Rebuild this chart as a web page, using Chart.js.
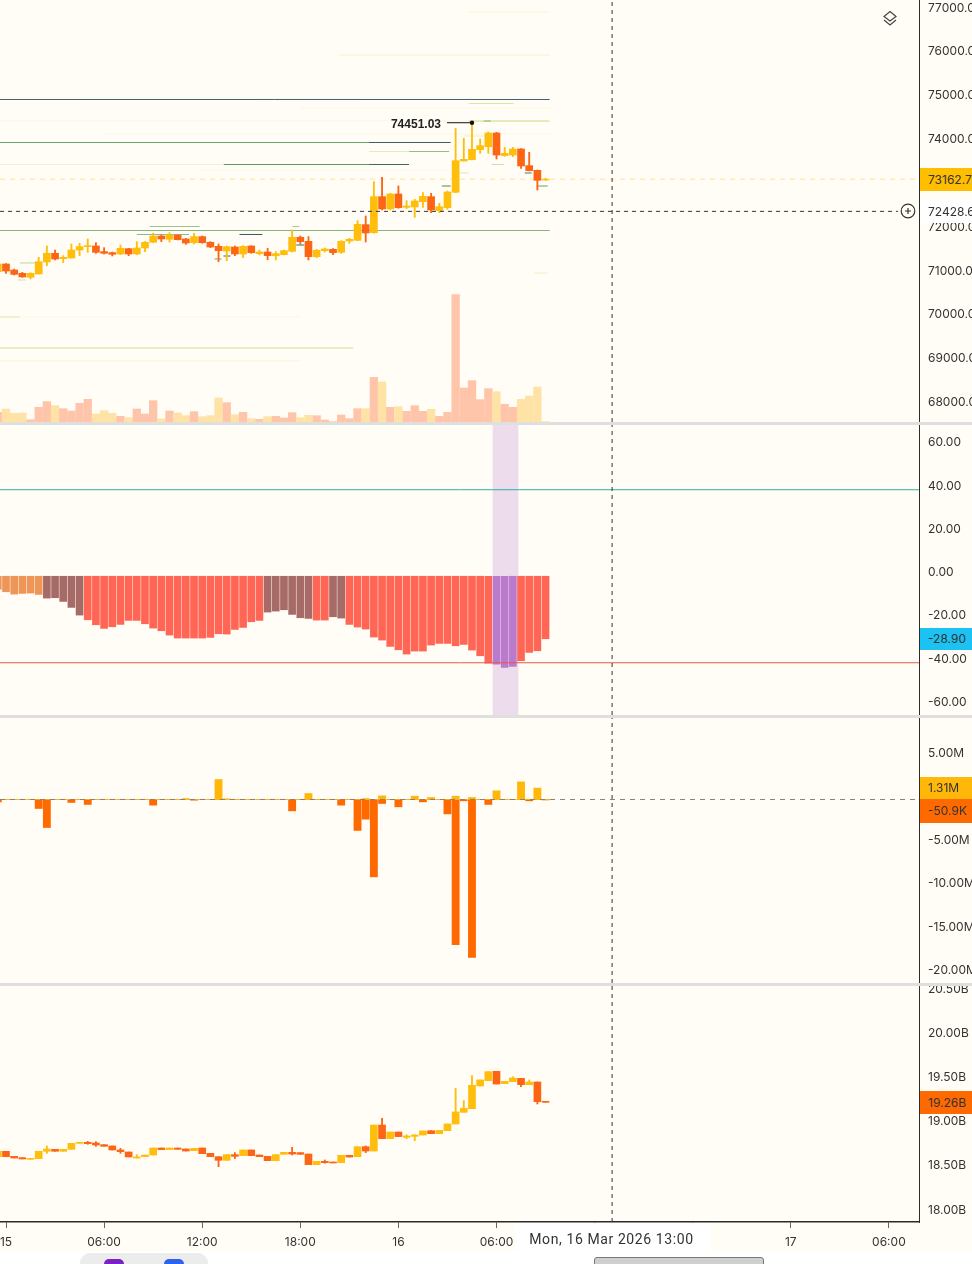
<!DOCTYPE html>
<html>
<head>
<meta charset="utf-8">
<title>BTC chart</title>
<script src="https://cdn.jsdelivr.net/npm/chart.js@4/dist/chart.umd.min.js"></script>
<style>
html,body{margin:0;padding:0;background:#fff;overflow:hidden}
#stage{position:relative;width:972px;height:1264px;overflow:hidden;background:#fff;font-family:Inter,Roboto,sans-serif}
#cream{position:absolute;left:0;top:0;width:972px;height:1251px;background:#fffdf5}
canvas{position:absolute;left:0}
.sep{position:absolute;left:0;width:972px;height:3px;background:#dfdfdd}
.tag{position:absolute;left:920px;width:52px;box-sizing:border-box;padding-left:8px;font-size:12px;color:#333;white-space:nowrap;overflow:hidden;display:flex;align-items:center}
</style>
</head>
<body>
<div id="stage">
<div id="cream"></div>
<canvas id="c1" width="972" height="422" style="top:0"></canvas>
<canvas id="c2" width="972" height="290" style="top:425px"></canvas>
<canvas id="c3" width="972" height="265" style="top:718px"></canvas>
<canvas id="c4" width="972" height="265" style="top:986px"></canvas>
<div class="sep" style="top:422px"></div>
<div class="sep" style="top:715px"></div>
<div class="sep" style="top:983px"></div>
<svg style="position:absolute;left:881px;top:10px" width="18" height="18" viewBox="0 0 18 18" fill="none" stroke="#444" stroke-width="1.2"><path d="M9 1.5 15 6.5 9 11 3 6.5Z"/><path d="M3 10 9 15 15 10"/></svg>
<svg style="position:absolute;left:900px;top:203px" width="16" height="16" viewBox="0 0 16 16" fill="none" stroke="#333" stroke-width="1.2"><circle cx="8" cy="8" r="6.8"/><path d="M5 8H11M8 5V11"/></svg>
<div id="hiLabel" style="position:absolute;left:380px;width:61px;text-align:right;font:bold 12px 'Liberation Sans',Arial,sans-serif;color:#222">74451.03</div>
<div style="position:absolute;left:515px;top:1223px;width:195px;height:27px;background:#fff"></div>
<div style="position:absolute;left:515px;top:1225px;width:193px;height:27px;font:14px Roboto,sans-serif;color:#333;display:flex;align-items:center;justify-content:center;letter-spacing:.6px">Mon, 16 Mar 2026 13:00</div>
<div style="position:absolute;left:0;top:1251px;width:972px;height:13px;background:#fff"></div>
<div style="position:absolute;left:80px;top:1253px;width:128px;height:30px;border-radius:10px;background:#ececec"></div>
<div style="position:absolute;left:104px;top:1259px;width:20px;height:20px;border-radius:5px;background:#7b22c4"></div>
<div style="position:absolute;left:164px;top:1259px;width:20px;height:20px;border-radius:5px;background:#2d62ee"></div>
<div style="position:absolute;left:594px;top:1257px;width:170px;height:20px;border-radius:3px;background:#cfcfcf;border:1px solid #777;box-sizing:border-box"></div>
</div>
<script>
// Time of each 30-minute candle, hours since 15 Mar 00:00
const hours = [-0.5,0,0.5,1,1.5,2,2.5,3,3.5,4,4.5,5,5.5,6,6.5,7,7.5,8,8.5,9,9.5,10,10.5,11,11.5,12,12.5,13,13.5,14,14.5,15,15.5,16,16.5,17,17.5,18,18.5,19,19.5,20,20.5,21,21.5,22,22.5,23,23.5,24,24.5,25,25.5,26,26.5,27,27.5,28,28.5,29,29.5,30,30.5,31,31.5,32,32.5,33];

const priceOpen = [71053,71228,71091,71015,70924,71000,71274,71472,71350,71365,
71548,71624,71639,71510,71487,71456,71578,71456,71593,71723,
71867,71791,71882,71799,71715,71852,71723,71631,71525,71616,
71456,71639,71464,71502,71418,71441,71517,71837,71745,71396,
71532,71563,71494,71753,71768,72126,71943,72764,72483,72825,
72521,72529,72650,72764,72445,72513,72863,73578,73608,73837,
73905,74217,73700,73715,73852,73472,73365,73145];
const priceClose = [71228,71068,70992,70932,71015,71281,71472,71342,71380,71548,
71624,71647,71494,71472,71449,71586,71456,71593,71723,71867,
71799,71897,71783,71707,71852,71715,71616,71532,71624,71456,
71631,71487,71502,71418,71464,71532,71837,71738,71396,71540,
71570,71487,71745,71791,72133,71936,72764,72483,72825,72513,
72551,72666,72772,72460,72536,72871,73586,73616,73844,73928,
74217,73715,73753,73852,73464,73358,73137,73162.7];
const priceHigh = [71243,71235,71114,71038,71030,71380,71639,71548,71418,71684,
71700,71799,71715,71601,71502,71662,71586,71738,71738,71928,
71890,71943,71897,71814,71928,71867,71738,71684,71639,71639,
71647,71647,71548,71586,71510,71548,72004,71867,71852,71563,
71593,71578,71761,71814,72217,72323,73107,73206,72840,73008,
72673,72704,72856,72840,72612,72894,74323,74095,74451.03,74080,
74240,74232,73890,73890,73860,73776,73373,73185];
const priceLow = [71030,71015,70977,70924,70886,70998,71190,71319,71259,71360,
71418,71494,71472,71456,71411,71441,71418,71441,71510,71715,
71738,71730,71776,71677,71684,71700,71601,71281,71304,71418,
71373,71472,71434,71327,71319,71436,71502,71684,71319,71373,
71502,71441,71472,71700,71760,71730,71928,72460,72460,72498,
72491,72293,72521,72399,72399,72475,72856,73575,73600,73753,
73753,73624,73685,73677,73411,73350,72916,73135];

const volume = [29,39,26,27,7,44,61,49,40,33,
56,68,24,34,26,17,13,39,24,64,
9,33,27,19,31,16,19,72,58,22,
29,10,8,16,17,12,28,13,20,19,
6,1,21,10,40,40,134,120,44,46,
32,49,32,38,17,29,382,102,124,67,
100,91,53,44,68,78,105,1];
const volumeRising = [0,1,1,1,0,0,0,1,0,0,
0,0,1,1,1,0,1,0,0,0,
1,0,1,1,0,1,1,1,0,1,
0,1,0,1,0,0,0,1,1,0,
0,0,0,0,0,1,0,1,0,1,
0,0,0,1,0,0,0,0,0,0,
0,1,0,0,1,1,1,1];

const rsi = [-5.93,-7.17,-8.25,-7.94,-7.78,-8.40,-10.10,-9.94,-11.64,-14.41,
-17.96,-20.12,-22.43,-24.12,-23.35,-22.27,-20.42,-20.42,-21.97,-23.97,
-25.20,-27.21,-28.59,-28.59,-28.59,-28.59,-28.28,-26.59,-26.74,-24.59,
-23.66,-21.04,-20.42,-16.57,-16.11,-15.49,-17.65,-19.19,-19.50,-20.27,
-20.27,-18.73,-19.35,-22.27,-23.51,-24.43,-28.13,-29.52,-32.45,-33.99,
-35.99,-34.60,-34.60,-31.83,-31.06,-31.06,-32.14,-31.52,-34.14,-36.76,
-40.15,-40.62,-42.16,-41.70,-39.07,-35.22,-34.45,-28.90];
const rsiZone = ['t','t','t','t','t','t','b','b','b','b',
'b','r','r','r','r','r','r','r','r','r',
'r','r','r','r','r','r','r','r','r','r',
'r','r','r','b','b','b','b','b','b','r',
'r','b','b','r','r','r','r','r','r','r',
'r','r','r','r','r','r','r','r','r','r',
'r','p','p','p','r','r','r','r'];

const deltaPositive = [0,0,0,0,0,0,0,0,0,0,
0,0,0,0,0,0,0,0,0,0,
0,0,0,0.11,0,0,0,2.30,0.08,0,
0,0,0,0,0,0,0,0,0.69,0,
0,0,0,0,0,0.11,0,0.42,0,0,
0,0.38,0,0.23,0,0,0.38,0,0.23,0,
0,1.00,0,0,2.03,0.04,1.31,0];
const deltaNegative = [-0.27,0,0,0,0,-1.03,-3.22,0,0,-0.34,
0,-0.57,0,0,0,0,0,0,0,-0.65,
0,0,0,0,-0.08,0,0,0,0,0,
0,0,0,0,0,0,-1.30,0,0,0,
0,0,-0.65,0,-3.56,-2.26,-8.89,-0.46,0,-0.84,
0,0,-0.27,0,0,-1.65,-16.67,-0.15,-18.16,0,
-0.57,0,0,0,0,-0.15,0,-0.05];

const oiOpen = [18.637,18.698,18.641,18.626,18.607,18.615,18.698,18.720,18.698,18.720,
18.788,18.799,18.792,18.773,18.758,18.713,18.690,18.622,18.637,18.656,
18.735,18.717,18.735,18.724,18.705,18.735,18.675,18.637,18.596,18.660,
18.649,18.713,18.656,18.641,18.592,18.664,18.686,18.683,18.667,18.547,
18.584,18.577,18.569,18.652,18.637,18.750,18.701,18.995,18.841,18.916,
18.856,18.867,18.882,18.931,18.897,18.931,19.007,19.139,19.180,19.437,
19.497,19.603,19.463,19.486,19.523,19.452,19.482,19.263];
const oiClose = [18.698,18.637,18.622,18.611,18.618,18.698,18.724,18.698,18.720,18.788,
18.799,18.784,18.769,18.754,18.713,18.694,18.634,18.634,18.656,18.735,
18.717,18.735,18.720,18.701,18.732,18.671,18.637,18.596,18.660,18.641,
18.713,18.649,18.637,18.592,18.660,18.686,18.667,18.664,18.547,18.584,
18.569,18.566,18.652,18.633,18.750,18.701,18.995,18.841,18.916,18.864,
18.871,18.882,18.928,18.897,18.935,19.007,19.143,19.184,19.444,19.505,
19.599,19.459,19.489,19.527,19.452,19.482,19.259,19.252];
const oiHigh = [18.698,18.698,18.641,18.626,18.618,18.698,18.758,18.720,18.720,18.788,
18.799,18.811,18.807,18.773,18.758,18.732,18.690,18.660,18.656,18.735,
18.735,18.735,18.735,18.724,18.732,18.735,18.675,18.637,18.660,18.683,
18.713,18.713,18.656,18.641,18.660,18.686,18.743,18.683,18.667,18.584,
18.600,18.577,18.652,18.652,18.750,18.758,18.995,19.071,18.916,18.916,
18.886,18.886,18.928,18.931,18.935,19.007,19.410,19.271,19.554,19.505,
19.599,19.603,19.489,19.542,19.523,19.505,19.482,19.263];
const oiLow = [18.637,18.637,18.622,18.611,18.607,18.615,18.675,18.698,18.698,18.720,
18.788,18.777,18.754,18.754,18.713,18.675,18.634,18.622,18.637,18.656,
18.717,18.717,18.720,18.701,18.705,18.671,18.637,18.524,18.596,18.615,
18.649,18.649,18.637,18.592,18.592,18.664,18.656,18.664,18.547,18.547,
18.562,18.566,18.569,18.633,18.637,18.683,18.701,18.841,18.841,18.864,
18.841,18.818,18.882,18.897,18.897,18.931,19.007,19.139,19.180,19.437,
19.497,19.459,19.463,19.486,19.429,19.452,19.233,19.252];

// Liquidity-level streaks behind the price candles
const levelPrice = [74981,74000,74000,73498,73498,73498,73794,73794,74490,74490,74890,75996,76977,71992,71992,71992,71992,71992,71901,71901,72083,72083,69311,70019,71022,71661,73007,73007,73304,73304,73498,71410,71342,71251,70863,74148,74497,69015,70019,74787,74194,73372];
const levelFrom  = [-0.37,-0.37,22.2,-0.37,13.3,22.2,22.2,24.65,28.3,29.22,28.3,20.38,28.3,-0.37,0.3,7.57,10.3,15.8,8.0,14.28,8.79,17.51,-0.37,-0.37,32.28,17.75,26.66,32.46,31.73,27.7,29.7,13.3,12.75,0.85,0.73,28.0,-0.37,-0.37,-0.37,18.0,6.0,12.0];
const levelTo    = [33.25,22.2,27.2,13.3,22.2,24.65,24.65,27.1,33.25,29.65,31.06,33.25,33.25,33.25,0.85,10.3,15.68,21.3,11.2,15.68,11.84,17.94,21.23,0.85,33.13,18.24,27.2,33.13,32.15,28.3,30.45,13.73,13.18,1.9,1.2,30.0,28.3,18.0,18.0,33.25,33.25,27.0];
const levelColor = ['#3f6272','#6fa56f','#3d5e5c','#f1f1d8','#5f9a60','#3e6b5e','#e3ebc8','#94b98e','#c9d985','#4e8f4a','#dfe5a8','#f4f1c8','#f8f5d8','#86b47c','#3f6272','#3f6272','#6fa56f','#b9d292','#8fb886','#3f5a62','#9cc090','#a9c98a','#d9da92','#e6e4b0','#f0eec0','#44605c','#4f8a55','#6f9e6a','#4f7a5a','#e2e6c0','#cfdcae','#3f6272','#7ea078','#bfd4a0','#cfe0a8','#f2efc8','#fbf9e4','#f6f4d8','#faf8e6','#fbf9e6','#fbf9e6','#fbf9e6'];

const priceTicks = [77000,76000,75000,74000,72000,71000,70000,69000,68000];
const rsiTicks = [60,40,20,0,-20,-40,-60];
const deltaTicks = [5,-5,-10,-15,-20];
const oiTicks = [20.5,20,19.5,19,18.5,18];
const timeTicks = [0,6,12,18,24,30,36,42,48,54];
const timeLabels = ['15','06:00','12:00','18:00','16','06:00','12:00','18:00','17','06:00'];

const lastPrice = 73162.7, crossPrice = 72428.6, crossHour = 37.07, peakPrice = 74451.03;
const peakFromHour = 26.97, peakHour = 28.5;
const rsiUpper = 40, rsiLower = -40;
const highlightHour = 30.55;

const UP = '#ffbe0b', DOWN = '#fb6514';
const xMin = -0.367, xMax = 55.84;
const font = {family:'Inter, Roboto, sans-serif', size:12};

function xScale(){ return {type:'linear',display:false,offset:false,min:xMin,max:xMax,grid:{display:false,offset:false}}; }
function yScale(min,max,ticks,fmt,lift){
  return {type:'linear',position:'right',min,max,
    grid:{display:false,drawTicks:false},
    border:{display:true,color:'#2b2b2b',width:1},
    afterBuildTicks(s){ s.ticks = ticks.map(value=>({value})); },
    afterFit(s){ s.width = 53; s.paddingTop = 0; s.paddingBottom = 0; },
    ticks:{autoSkip:false,padding:9,labelOffset:lift||-3,color:'#333',font,crossAlign:'near',callback:fmt}};
}
function hline(y,from,to,color,dash,order,width){
  return {type:'line',data:[{x:from,y},{x:to,y}],borderColor:color,borderWidth:width||1,borderDash:dash||[],pointRadius:0,order,fill:false,tension:0};
}
function vline(x,min,max){
  return {type:'line',data:[{x,y:min},{x,y:max}],borderColor:'#333',borderWidth:1,borderDash:[4,4],pointRadius:0,order:0};
}
function candles(o,h,l,c){
  const col = o.map((v,i)=>c[i]>=v?UP:DOWN);
  return [
    {type:'bar',data:hours.map((x,i)=>({x,y:[o[i],c[i]]})),backgroundColor:col,barThickness:7,grouped:false,order:1},
    {type:'bar',data:hours.map((x,i)=>({x,y:[l[i],h[i]]})),backgroundColor:col,barThickness:1.2,grouped:false,order:2}
  ];
}
function make(id,datasets,scales){
  return new Chart(document.getElementById(id),{type:'bar',data:{datasets},
    options:{responsive:false,animation:false,maintainAspectRatio:false,
      layout:{padding:0,autoPadding:false},scales,
      plugins:{legend:{display:false},tooltip:{enabled:false}}}});
}
function tag(chart,canvasTop,value,text,bg,h,shift){
  const y = chart.scales.y.getPixelForValue(value)+canvasTop+(shift||0);
  const d = document.createElement('div');
  d.className='tag'; d.textContent=text; d.style.background=bg;
  d.style.top=(y-h/2)+'px'; d.style.height=h+'px';
  document.getElementById('stage').appendChild(d);
}

// Pane 1: price, liquidity levels, volume
const pYMin=67623, pYMax=77251;
const levels = levelPrice.map((p,i)=>hline(p,levelFrom[i],levelTo[i],levelColor[i],null,6));
const c1 = make('c1',[
  ...candles(priceOpen,priceHigh,priceLow,priceClose),
  {type:'line',data:[{x:peakFromHour,y:peakPrice},{x:peakHour,y:peakPrice}],borderColor:'#111',borderWidth:1,pointRadius:[0,2.2],pointBackgroundColor:'#111',pointBorderWidth:0,order:0},
  hline(crossPrice,xMin,54.55,'#333',[4,4],0),
  hline(lastPrice,xMin,xMax,'#ffe394',[5,5],3),
  vline(crossHour,pYMin,pYMax),
  ...levels,
  {type:'bar',yAxisID:'yVol',data:hours.map((x,i)=>({x,y:volume[i]})),backgroundColor:volumeRising.map(r=>r?'#ffe3a6':'#ffc5aa'),barThickness:7.7,grouped:false,order:8}
],{x:xScale(),y:yScale(pYMin,pYMax,priceTicks,v=>v.toFixed(1)),
   yVol:{type:'linear',display:false,min:0,max:1266,grid:{display:false}}});

// Pane 2: oscillator
const rYMin=-64.16, rYMax=69.94;
const rsiPalette={t:'#ee9558',b:'#a66a67',r:'#ff6655',p:'#bb7bcc'};
const c2 = make('c2',[
  vline(crossHour,rYMin,rYMax),
  hline(rsiUpper,xMin,xMax,'#2fb3a3',null,1),
  hline(rsiLower,xMin,xMax,'#e4594e',null,1),
  {type:'bar',data:hours.map((x,i)=>({x,y:rsi[i]})),backgroundColor:rsiZone.map(z=>rsiPalette[z]),barThickness:7,grouped:false,order:3},
  {type:'bar',data:[{x:highlightHour,y:[rYMin,rYMax]}],backgroundColor:'#eddcec',barThickness:25,grouped:false,order:5}
],{x:xScale(),y:yScale(rYMin,rYMax,rsiTicks,v=>v.toFixed(2),-3.75)});

// Pane 3: delta
const dYMin=-21.09, dYMax=9.37;
const c3 = make('c3',[
  vline(crossHour,dYMin,dYMax),
  hline(0,xMin,xMax,'#8a8078',[5,5],0),
  {type:'bar',data:hours.map((x,i)=>({x,y:deltaPositive[i]})),backgroundColor:'#ffb70a',barThickness:7.2,grouped:false,order:2},
  {type:'bar',data:hours.map((x,i)=>({x,y:deltaNegative[i]})),backgroundColor:'#ff6a00',barThickness:7.2,grouped:false,order:2}
],{x:xScale(),y:yScale(dYMin,dYMax,deltaTicks,v=>v.toFixed(2)+'M')});

// Pane 4: open interest with the time axis
const oYMin=17.898, oYMax=20.568;
const x4 = {type:'linear',position:'bottom',offset:false,min:xMin,max:xMax,
  grid:{display:true,offset:false,drawTicks:true,tickLength:6,tickColor:'#666',drawOnChartArea:false},
  border:{display:true,color:'#2b2b2b',width:1.5},
  afterBuildTicks(s){ s.ticks = timeTicks.map(value=>({value})); },
  afterFit(s){ s.height = 29; s.paddingLeft = 0; s.paddingRight = 0; },
  ticks:{autoSkip:false,maxRotation:0,minRotation:0,padding:7,color:'#333',font,
    callback:(v)=>timeLabels[timeTicks.indexOf(v)]}};
const c4 = make('c4',[
  ...candles(oiOpen,oiHigh,oiLow,oiClose),
  vline(crossHour,oYMin,oYMax)
],{x:x4,y:yScale(oYMin,oYMax,oiTicks,v=>v.toFixed(2)+'B')});

// Value tags on the axes, placed from the library's scales
tag(c1,0,lastPrice,lastPrice.toFixed(1),'#ffbf00',23);
tag(c1,0,crossPrice,crossPrice.toFixed(1),'#ffffff',23);
tag(c2,425,rsi[rsi.length-1],rsi[rsi.length-1].toFixed(2),'#1cc2f2',22,0);
tag(c3,718,deltaPositive[66],deltaPositive[66].toFixed(2)+'M','#ffb70a',22,-0.5);
tag(c3,718,deltaNegative[67],'-50.9K','#ff6a00',24,11);
tag(c4,986,oiClose[67],'19.26B','#ff6a00',23,0);
document.getElementById('hiLabel').style.top=(c1.scales.y.getPixelForValue(peakPrice)-6)+'px';
</script>
</body>
</html>
